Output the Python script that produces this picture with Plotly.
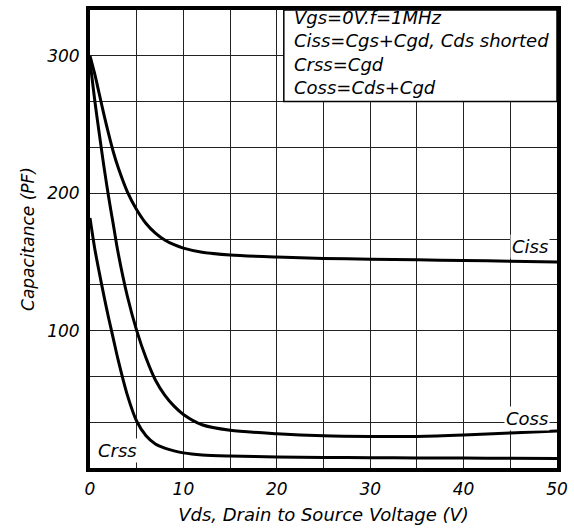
import plotly.graph_objects as go

# ---- data ----
vds = [0, 0.5, 1, 1.5, 2, 2.5, 3, 4, 5, 6, 7, 8, 9, 10, 12, 15, 20, 25, 30, 35, 40, 45, 50]
ciss = [300, 287, 272, 257, 243, 230, 219, 201, 188, 178, 171, 166, 162.5, 160, 157, 155, 153.5, 152.5, 152, 151.5, 151, 150.5, 150]
coss = [296, 268, 243, 219, 197, 177, 157, 125, 100, 80, 64, 53, 45, 39, 31.5, 27.5, 25, 23.5, 23, 23, 24, 25.5, 27]
crss = [182, 160, 142, 125, 109, 94, 79, 53, 34, 23.5, 17.5, 14.5, 12.5, 11, 9.5, 8.7, 8, 7.7, 7.5, 7.3, 7.2, 7.1, 7]

x_tickvals = [0, 5, 10, 15, 20, 25, 30, 35, 40, 45, 50]
x_ticktext = ["0", "", "10", "", "20", "", "30", "", "40", "", "50"]
y_tickvals = [0, 100/3, 200/3, 100, 400/3, 500/3, 200, 700/3, 800/3, 300, 1000/3]
y_ticktext = ["", "", "", "100", "", "", "200", "", "", "300", ""]

legend_lines = ["Vgs=0V.f=1MHz", "Ciss=Cgs+Cgd, Cds shorted", "Crss=Cgd", "Coss=Cds+Cgd"]

FONT = "DejaVu Sans"

fig = go.Figure()
for name, vals in [("Ciss", ciss), ("Coss", coss), ("Crss", crss)]:
    fig.add_trace(go.Scatter(x=vds, y=vals, mode="lines", name=name,
                             line=dict(color="black", width=3, shape="spline", smoothing=0.8),
                             showlegend=False, hoverinfo="skip"))

fig.update_layout(
    width=574, height=529,
    margin=dict(l=90, r=14, t=6, b=55),
    paper_bgcolor="white", plot_bgcolor="white",
    font=dict(family=FONT, size=17, color="black", style="italic"),
)
fig.update_xaxes(
    range=[0, 50], tickvals=x_tickvals, ticktext=x_ticktext,
    showgrid=True, gridcolor="#222", gridwidth=1,
    showline=True, linecolor="black", linewidth=4, mirror=True,
    ticks="", ticklabelstandoff=3, zeroline=False,
    title=dict(text="Vds, Drain to Source Voltage (V)", font=dict(size=18, style="italic"), standoff=11),
)
fig.update_yaxes(
    range=[0, 1000/3], tickvals=y_tickvals, ticktext=y_ticktext,
    showgrid=True, gridcolor="#222", gridwidth=1,
    showline=True, linecolor="black", linewidth=4, mirror=True,
    ticks="", ticklabelstandoff=3, zeroline=False,
    title=dict(text="Capacitance (PF)", font=dict(size=17, style="italic"), standoff=9),
)

# condition box
fig.add_shape(type="rect", xref="paper", yref="paper", x0=0.415, x1=1.0, y0=0.80, y1=1.0,
              fillcolor="white", line=dict(color="black", width=1.5), layer="above")
fig.add_annotation(xref="paper", yref="paper", x=0.432, y=1.012, xanchor="left", yanchor="top",
                   text="<br>".join(legend_lines), showarrow=False, align="left",
                   font=dict(size=18, style="italic"))

# curve labels
fig.add_annotation(x=49.3, y=161.5, xanchor="right", yanchor="middle", text="Ciss",
                   showarrow=False, bgcolor="white", font=dict(size=18, style="italic"))
fig.add_annotation(x=49.3, y=36, xanchor="right", yanchor="middle", text="Coss",
                   showarrow=False, bgcolor="white", font=dict(size=18, style="italic"))
fig.add_annotation(x=0.6, y=12.5, xanchor="left", yanchor="middle", text="Crss",
                   showarrow=False, bgcolor="white", font=dict(size=18, style="italic"))

fig.write_html("out.html", config={"displayModeBar": False},
               post_script="document.body.style.margin='0';document.body.style.overflow='hidden';")
